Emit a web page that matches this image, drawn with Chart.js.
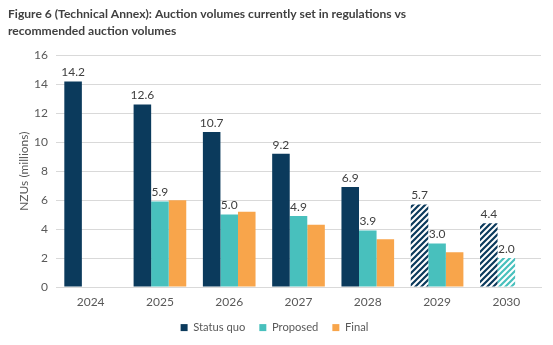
<!DOCTYPE html>
<html>
<head>
<meta charset="utf-8">
<script src="https://cdn.jsdelivr.net/npm/chart.js@4.4.1/dist/chart.umd.min.js"></script>
<style>
  html, body { margin: 0; padding: 0; background: #fff; }
  #wrap { width: 553px; height: 345px; position: relative; }
</style>
</head>
<body>
<div id="wrap"><canvas id="auctionChart"></canvas></div>
<script>
var years = ['2024', '2025', '2026', '2027', '2028', '2029', '2030'];
var statusQuo = [14.2, 12.6, 10.7, 9.2, 6.9, 5.7, 4.4];
var proposed = [null, 5.9, 5.0, 4.9, 3.9, 3.0, 2.0];
var finalVolumes = [null, 6.0, 5.2, 4.3, 3.3, 2.4, null];
// years drawn with striped fill (indicative only)
var hatchedStatusQuo = ['2029', '2030'];
var hatchedProposed = ['2030'];

var NAVY = '#0b3a5c';
var TEAL = '#48c0bd';
var ORANGE = '#f8a54b';
var FONT = 'Lato, "Open Sans", sans-serif';

function makeStripes(color) {
    var size = 6;
    var c = document.createElement('canvas');
    c.width = size;
    c.height = size;
    var g = c.getContext('2d');
    g.fillStyle = '#ffffff';
    g.fillRect(0, 0, size, size);
    g.strokeStyle = color;
    g.lineWidth = 2.2;
    g.beginPath();
    g.moveTo(-1, size + 1); g.lineTo(size + 1, -1);
    g.moveTo(-1, 1); g.lineTo(1, -1);
    g.moveTo(size - 1, size + 1); g.lineTo(size + 1, size - 1);
    g.stroke();
    return g.createPattern(c, 'repeat');
}

var navyStripes = makeStripes(NAVY);
var tealStripes = makeStripes(TEAL);

function fills(solid, stripes, hatchedYears) {
    return years.map(function (y) {
        return hatchedYears.indexOf(y) >= 0 ? stripes : solid;
    });
}

var valueLabels = {
    id: 'valueLabels',
    afterDatasetsDraw: function (chart) {
        var ctx = chart.ctx;
        ctx.save();
        ctx.font = '12px ' + FONT;
        ctx.fillStyle = '#404040';
        ctx.textAlign = 'center';
        ctx.textBaseline = 'bottom';
        [0, 1].forEach(function (di) {
            var meta = chart.getDatasetMeta(di);
            var values = chart.data.datasets[di].data;
            meta.data.forEach(function (bar, i) {
                if (values[i] === null) return;
                ctx.fillText(values[i].toFixed(1), bar.x, bar.y - 3);
            });
        });
        ctx.restore();
    }
};

// fixed legend box height so the plot keeps its size
var legendHeight = {
    id: 'legendHeight',
    beforeInit: function (chart) {
        var legend = chart.legend;
        var fit = legend.fit;
        legend.fit = function () {
            fit.call(this);
            this.height = 37;
        };
    }
};

var auctionChart = new Chart(document.getElementById('auctionChart'), {
    type: 'bar',
    data: {
        labels: years,
        datasets: [
            {
                label: 'Status quo',
                data: statusQuo,
                backgroundColor: fills(NAVY, navyStripes, hatchedStatusQuo)
            },
            {
                label: 'Proposed',
                data: proposed,
                backgroundColor: fills(TEAL, tealStripes, hatchedProposed)
            },
            {
                label: 'Final',
                data: finalVolumes,
                backgroundColor: ORANGE
            }
        ]
    },
    options: {
        animation: false,
        responsive: true,
        maintainAspectRatio: false,
        skipNull: false,
        layout: {
            padding: { left: 8, right: 12, top: 4, bottom: 0 }
        },
        datasets: {
            bar: {
                categoryPercentage: 0.76,
                barPercentage: 1.0,
                borderWidth: 0
            }
        },
        plugins: {
            title: {
                display: true,
                align: 'start',
                text: [
                    'Figure 6 (Technical Annex): Auction volumes currently set in regulations vs',
                    'recommended auction volumes'
                ],
                color: '#404040',
                font: { family: FONT, size: 12.1, weight: 'bold', lineHeight: 1.38 },
                padding: { top: 2, bottom: 16 }
            },
            legend: {
                position: 'bottom',
                labels: {
                    boxWidth: 7,
                    boxHeight: 7,
                    padding: 14,
                    color: '#595959',
                    font: { family: FONT, size: 11.2 },
                    generateLabels: function (chart) {
                        var solid = [NAVY, TEAL, ORANGE];
                        return Chart.defaults.plugins.legend.labels.generateLabels(chart).map(function (item, i) {
                            item.fillStyle = solid[i];
                            item.strokeStyle = solid[i];
                            item.lineWidth = 0;
                            return item;
                        });
                    }
                }
            },
            tooltip: { enabled: false }
        },
        scales: {
            x: {
                grid: { display: false, drawTicks: false },
                border: { color: '#d9d9d9' },
                ticks: {
                    color: '#595959',
                    padding: 8,
                    font: { family: FONT, size: 12 }
                },
                afterFit: function (scale) { scale.height = 21; }
            },
            y: {
                min: 0,
                max: 16,
                ticks: {
                    stepSize: 2,
                    color: '#595959',
                    padding: 8,
                    font: { family: FONT, size: 12 }
                },
                grid: { color: '#d9d9d9', drawTicks: false },
                border: { display: false },
                title: {
                    display: true,
                    text: 'NZUs (millions)',
                    color: '#595959',
                    font: { family: FONT, size: 12 },
                    padding: { top: 9, bottom: 0 }
                },
                afterFit: function (scale) { scale.width = 48; }
            }
        }
    },
    plugins: [valueLabels, legendHeight]
});
</script>
</body>
</html>
